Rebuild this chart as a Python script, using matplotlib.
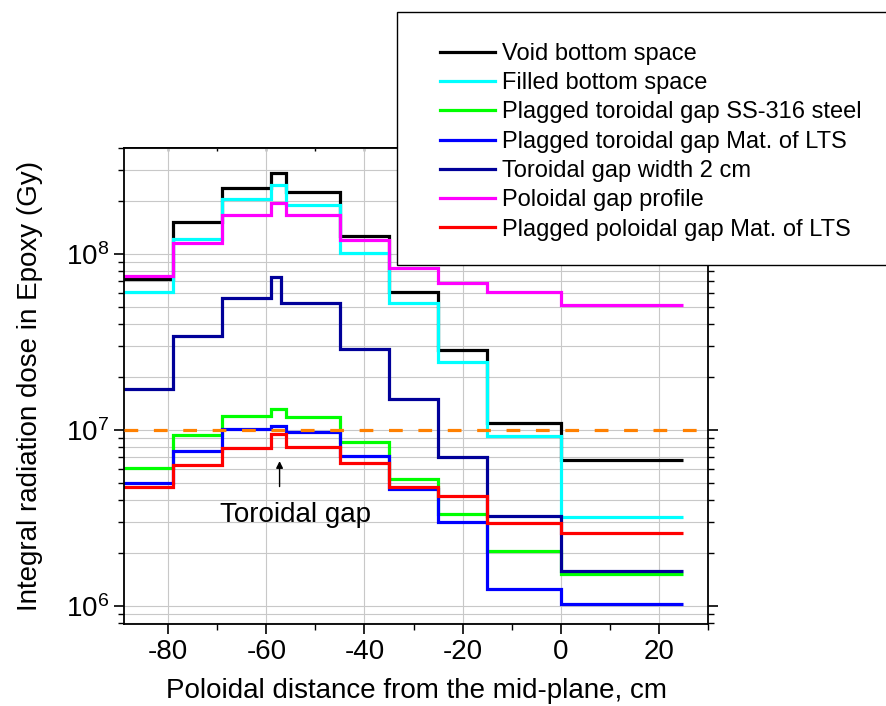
import matplotlib
matplotlib.use('Agg')
import matplotlib.pyplot as plt
from matplotlib.lines import Line2D
from matplotlib.patches import Rectangle
from matplotlib.ticker import LogLocator, MultipleLocator, NullFormatter

plt.rcParams['font.family'] = ['Liberation Sans', 'DejaVu Sans']
plt.rcParams['mathtext.fontset'] = 'custom'
plt.rcParams['mathtext.rm'] = 'Liberation Sans'
plt.rcParams['axes.unicode_minus'] = False

# --- data (poloidal bin edges, cm) ---
edges = [-90, -79, -69, -59, -56, -45, -35, -25, -15, 0, 25]
edges_gap2cm = [-90, -79, -69, -59, -57, -45, -35, -25, -15, 0, 25]

void_bottom = [7.2e7, 1.51e8, 2.38e8, 2.87e8, 2.24e8, 1.27e8, 6.1e7, 2.85e7, 1.09e7, 6.76e6]
filled_bottom = [6.1e7, 1.22e8, 2.04e8, 2.47e8, 1.91e8, 1.01e8, 5.25e7, 2.43e7, 9.3e6, 3.19e6]
plug_ss316 = [6.11e6, 9.33e6, 1.2e7, 1.31e7, 1.19e7, 8.51e6, 5.28e6, 3.34e6, 2.05e6, 1.51e6]
plug_tor_lts = [4.97e6, 7.63e6, 1.01e7, 1.06e7, 9.75e6, 7.11e6, 4.62e6, 2.99e6, 1.25e6, 1.02e6]
gap_width_2cm = [1.71e7, 3.4e7, 5.6e7, 7.43e7, 5.28e7, 2.89e7, 1.49e7, 7.03e6, 3.26e6, 1.58e6]
poloidal_profile = [7.5e7, 1.16e8, 1.66e8, 1.94e8, 1.66e8, 1.2e8, 8.3e7, 6.87e7, 6.05e7, 5.1e7]
plug_pol_lts = [4.74e6, 6.3e6, 7.87e6, 9.45e6, 7.98e6, 6.52e6, 4.76e6, 4.24e6, 2.97e6, 2.6e6]

dose_limit = 1e7

series = [
    ('Void bottom space', void_bottom, edges, '#000000'),
    ('Filled bottom space', filled_bottom, edges, '#00FFFF'),
    ('Plagged toroidal gap SS-316 steel', plug_ss316, edges, '#00FF00'),
    ('Plagged toroidal gap Mat. of LTS', plug_tor_lts, edges, '#0000FF'),
    ('Toroidal gap width 2 cm', gap_width_2cm, edges_gap2cm, '#000099'),
    ('Poloidal gap profile', poloidal_profile, edges, '#FF00FF'),
    ('Plagged poloidal gap Mat. of LTS', plug_pol_lts, edges, '#FF0000'),
]

fig = plt.figure(figsize=(8.87, 7.06), dpi=100)
ax = fig.add_axes([124 / 887, 1 - 624 / 706, (708 - 124) / 887, (624 - 148) / 706])

handles = []
for label, vals, ed, col in series:
    ax.stairs(vals, ed, baseline=None, color=col, lw=2.3)
    handles.append(Line2D([], [], color=col, lw=2.3, label=label))

ax.axhline(dose_limit, color='#FF8000', lw=2.3, dashes=(4.3, 4.9), zorder=5)

ax.set_yscale('log')
ax.set_xlim(-89, 30)
ax.set_ylim(7.9e5, 4.0e8)

ax.xaxis.set_major_locator(MultipleLocator(20))
ax.xaxis.set_minor_locator(MultipleLocator(10))
ax.yaxis.set_major_locator(LogLocator(base=10))
ax.yaxis.set_minor_locator(LogLocator(base=10, subs=range(2, 10)))
ax.yaxis.set_minor_formatter(NullFormatter())

ax.grid(True, which='major', color='#C8C8C8', lw=0.8)
ax.grid(True, which='minor', axis='y', color='#C8C8C8', lw=0.8)
ax.set_axisbelow(True)

ax.tick_params(axis='both', which='major', labelsize=20, direction='out', length=7, width=1.2, pad=4)
ax.tick_params(axis='both', which='minor', direction='out', length=4.5, width=1.0)
# small mirror ticks on top (inward) and right (outward)
secx = ax.secondary_xaxis('top')
secx.xaxis.set_major_locator(MultipleLocator(20))
secx.xaxis.set_minor_locator(MultipleLocator(10))
secx.tick_params(which='both', direction='in', length=2, width=1.0, labeltop=False)
secx.spines['top'].set_linewidth(1.3)
ax.tick_params(axis='y', which='both', right=True)
ax.tick_params(axis='y', which='major', right=True)
for s in ax.spines.values():
    s.set_linewidth(1.3)

ax.set_xlabel('Poloidal distance from the mid-plane, cm', fontsize=20, labelpad=9)
ax.set_ylabel('Integral radiation dose in Epoxy (Gy)', fontsize=20, labelpad=16)

ax.annotate('', xy=(-57.3, 6.9e6), xytext=(-57.3, 4.6e6),
            arrowprops=dict(arrowstyle='-|>', color='black', lw=1.0, mutation_scale=10))
ax.text(-54, 3.0e6, 'Toroidal gap', fontsize=20, ha='center', va='baseline')

# legend box drawn over the plot, clipped by the figure edge
fig.patches.append(Rectangle((397 / 887, 1 - 265 / 706), 520 / 887, 253 / 706,
                             transform=fig.transFigure, facecolor='white',
                             edgecolor='black', lw=1.0, zorder=3))
fig.legend(handles=handles, loc='upper left', bbox_to_anchor=(428 / 887, 1 - 31 / 706),
           frameon=False, borderpad=0, fontsize=17, handlelength=2.33,
           handletextpad=0.3, labelspacing=0.31)

fig.savefig('out.png', dpi=100)
